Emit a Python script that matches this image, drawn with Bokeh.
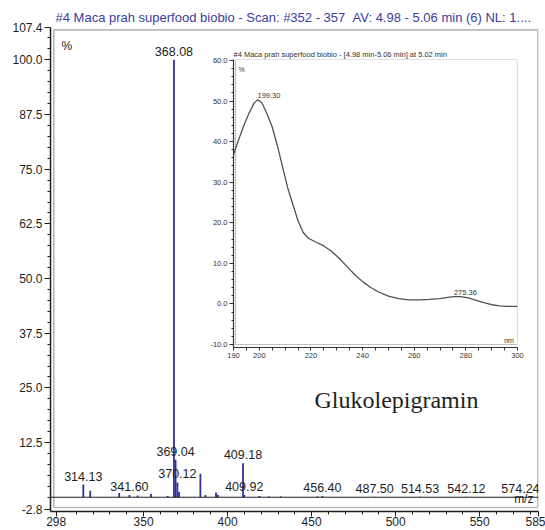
from bokeh.plotting import figure
from bokeh.models import (Range1d, FixedTicker, PrintfTickFormatter, LabelSet, Label,
                          ColumnDataSource, BoxAnnotation, Span)
from bokeh.core.properties import value
from bokeh.embed import file_html
from bokeh.resources import INLINE

# ---------------- data ----------------
TITLE = "#4 Maca prah superfood biobio - Scan: #352 - 357 \u00a0AV: 4.98 - 5.06 min (6) NL: 1...."
INSET_TITLE = "#4 Maca prah superfood biobio - [4.98 min-5.06 min] at 5.02 min"
COMPOUND = "Glukolepigramin"

# mass spectrum peaks (m/z, relative abundance %)
peak_mz = [314.13, 318.25, 335.5, 341.60, 346.4, 354.4, 364.3, 368.08, 369.04, 370.12,
           371.1, 383.8, 386.8, 393.1, 394.2, 409.18, 409.92, 418.9, 424.5, 431.6,
           453.5, 456.40, 487.50, 514.53, 542.12, 574.24]
peak_int = [2.9, 1.5, 1.0, 0.5, 0.4, 0.8, 0.3, 100.0, 8.6, 3.4,
            1.2, 5.4, 0.5, 1.1, 0.6, 7.8, 0.5, 0.3, 0.2, 0.2,
            0.2, 0.3, 0.1, 0.1, 0.1, 0.1]
label_mz = [314.13, 341.60, 368.08, 369.04, 370.12, 409.18, 409.92, 456.40,
            487.50, 514.53, 542.12, 574.24]

x_ticks = [298, 350, 400, 450, 500, 550, 585]
y_ticks = [-2.8, 12.5, 25.0, 37.5, 50.0, 62.5, 75.0, 87.5, 100.0, 107.4]

# UV spectrum inset (nm, %)
uv_nm = [190, 192, 194, 196, 198, 199.3, 201, 203, 205, 207, 209, 211, 213, 215, 217,
         219, 222, 225, 228, 231, 234, 237, 240, 243, 246, 250, 254, 258, 262, 266,
         270, 273, 275.36, 278, 281, 284, 287, 290, 293, 296, 300]
uv_pct = [36.8, 40.5, 44.0, 47.0, 49.5, 50.3, 49.6, 46.8, 43.6, 39.0, 33.8, 28.6, 24.5,
          20.5, 17.6, 16.2, 15.2, 14.3, 13.0, 11.2, 9.2, 7.2, 5.5, 4.1, 3.0, 1.9, 1.3,
          1.0, 1.0, 1.1, 1.3, 1.6, 1.8, 1.8, 1.5, 0.9, 0.3, -0.2, -0.5, -0.6, -0.6]
uv_label_nm = [199.30, 275.36]
uv_x_ticks = [190, 200, 220, 240, 260, 280, 300]
uv_y_ticks = [-10, 0, 10, 20, 30, 40, 50, 60]

# ---------------- styles ----------------
FONT = "Liberation Sans"
INK = "#1e1e1e"
GREY = "#333333"
BAR = "#30309c"
TITLE_BLUE = "#3c3ca0"

x_minor = [v for v in range(310, 585, 10) if v not in x_ticks]
y_minor = [v * 2.5 for v in range(0, 43) if (v * 2.5) not in y_ticks]
uv_x_minor = [v for v in range(195, 300, 5) if v not in uv_x_ticks]
uv_y_minor = [v for v in range(-8, 60, 2) if v % 10 != 0]

# ---------------- main mass spectrum ----------------
p = figure(width=545, height=530, x_range=Range1d(294.61, 585.0), y_range=Range1d(-3.257, 107.4),
           output_backend="svg", toolbar_location=None, title=TITLE,
           min_border_left=50, min_border_right=7, min_border_top=27, min_border_bottom=19)
p.grid.visible = False
p.outline_line_color = None
p.background_fill_color = "white"
p.border_fill_color = "white"

p.title.align = "left"
p.title.offset = 5
p.title.standoff = 5
p.title.text_font = FONT
p.title.text_font_size = "13px"
p.title.text_font_style = "normal"
p.title.text_color = TITLE_BLUE

ms_src = ColumnDataSource(dict(mz=peak_mz, inten=peak_int))
p.segment(x0="mz", y0=0, x1="mz", y1="inten", source=ms_src, line_color=BAR, line_width=1.8)

lookup = dict(zip(peak_mz, peak_int))
lab_src = ColumnDataSource(dict(mz=label_mz, inten=[lookup[m] for m in label_mz],
                                txt=[f"{m:.2f}" for m in label_mz]))
p.add_layout(LabelSet(x="mz", y="inten", text="txt", source=lab_src, y_offset=4,
                      text_align="center", text_baseline="alphabetic",
                      text_font=value(FONT), text_font_size=value("12.5px"), text_color=INK))

p.add_layout(Span(location=0, dimension="width", line_color=INK, line_width=1.2))
p.add_layout(BoxAnnotation(left=296.57, right=584.6, bottom=-2.34, top=106.87,
                           fill_alpha=0, line_color=INK, line_width=1.7))

yax = p.yaxis[0]
yax.ticker = FixedTicker(ticks=y_ticks, minor_ticks=y_minor)
yax.formatter = PrintfTickFormatter(format="%.1f")
xax = p.xaxis[0]
xax.ticker = FixedTicker(ticks=x_ticks, minor_ticks=x_minor)
for ax, tout in ((yax, 6), (xax, 5)):
    ax.major_tick_out = tout
    ax.major_tick_in = 0
    ax.minor_tick_out = 3
    ax.minor_tick_in = 0
    ax.axis_line_width = 1.5
    ax.axis_line_color = INK
    ax.major_tick_line_color = INK
    ax.minor_tick_line_color = INK
    ax.major_label_text_font = FONT
    ax.major_label_text_font_size = "12px"
    ax.major_label_text_color = INK
yax.major_label_standoff = 2
xax.major_label_standoff = 0

p.add_layout(Label(x=301.15, y=103.2, text="%", text_font=FONT, text_font_size="12px",
                   text_color=INK, text_baseline="alphabetic"))
p.add_layout(Label(x=582.0, y=-0.4, text="m/z", text_font=FONT, text_font_size="12px",
                   text_color=INK, text_align="right", text_baseline="alphabetic"))
p.add_layout(Label(x=451.7, y=22.3, text=COMPOUND, text_font="Liberation Serif",
                   text_font_size="24px", text_color=INK, text_baseline="alphabetic"))

# ---------------- UV inset ----------------
q = figure(width=325, height=319, x_range=Range1d(190, 300), y_range=Range1d(-10.74, 60.25),
           output_backend="svg", toolbar_location=None, title=INSET_TITLE,
           min_border_left=33, min_border_right=8, min_border_top=15, min_border_bottom=16)
q.grid.visible = False
q.outline_line_color = None
q.background_fill_color = None
q.border_fill_color = None
q.styles = {"position": "absolute", "left": "200px", "top": "44px"}

q.title.align = "left"
q.title.offset = 0
q.title.standoff = 2
q.title.text_font = FONT
q.title.text_font_size = "7.5px"
q.title.text_font_style = "normal"
q.title.text_color = GREY

q.line(uv_nm, uv_pct, line_color="#505050", line_width=1.3)
q.add_layout(BoxAnnotation(left=190.8, right=300, bottom=-10, top=60.25,
                           fill_alpha=0, line_color=GREY, line_width=1.2))

uv_lookup = dict(zip(uv_nm, uv_pct))
uvl_src = ColumnDataSource(dict(nm=uv_label_nm, pct=[uv_lookup[n] for n in uv_label_nm],
                                txt=[f"{n:.2f}" for n in uv_label_nm]))
q.add_layout(LabelSet(x="nm", y="pct", text="txt", source=uvl_src, y_offset=1.5,
                      text_align="left", text_baseline="alphabetic",
                      text_font=value(FONT), text_font_size=value("7.5px"), text_color=GREY))

for ax, ticks, minor, tout, mout in ((q.yaxis[0], uv_y_ticks, uv_y_minor, 4, 2),
                                     (q.xaxis[0], uv_x_ticks, uv_x_minor, 3, 3)):
    ax.ticker = FixedTicker(ticks=ticks, minor_ticks=minor)
    ax.major_tick_out = tout
    ax.major_tick_in = 0
    ax.minor_tick_out = mout
    ax.minor_tick_in = 0
    ax.axis_line_width = 1.2
    ax.axis_line_color = GREY
    ax.major_tick_line_color = GREY
    ax.minor_tick_line_color = GREY
    ax.major_label_text_font = FONT
    ax.major_label_text_font_size = "7.5px"
    ax.major_label_text_color = GREY
    ax.major_label_standoff = 2
q.yaxis[0].formatter = PrintfTickFormatter(format="%.1f")

q.add_layout(Label(x=191.9, y=57.8, text="%", text_font=FONT, text_font_size="7px",
                   text_color=GREY, text_baseline="alphabetic"))
q.add_layout(Label(x=298.6, y=-9.0, text="nm", text_font=FONT, text_font_size="7px",
                   text_color=GREY, text_align="right", text_baseline="alphabetic"))

open("out.html", "w").write(file_html([p, q], INLINE))
